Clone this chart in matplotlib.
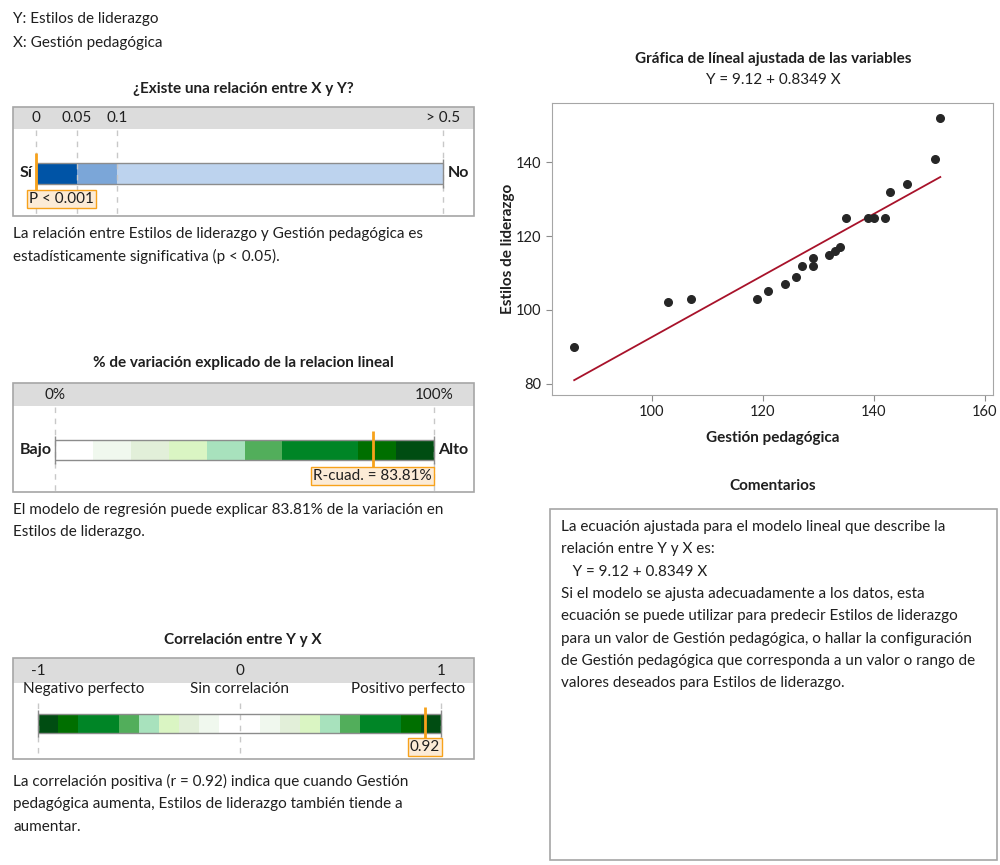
import matplotlib
matplotlib.use("Agg")
import matplotlib.pyplot as plt
from matplotlib.patches import Rectangle

plt.rcParams['font.family'] = ['Lato', 'DejaVu Sans']

# datos de la regresion
gestion = [86, 103, 107, 119, 121, 124, 126, 127, 129, 129, 132, 133, 134,
           135, 139, 140, 142, 143, 146, 151, 152]
estilos = [90, 102, 103, 103, 105, 107, 109, 112, 114, 112, 115, 116, 117,
           125, 125, 125, 125, 132, 134, 141, 152]
b0, b1 = 9.12, 0.8349
p_value = 0.001
r_sq = 83.81
r_corr = 0.92

# escalas de los indicadores
p_breaks = [0, 0.05, 0.1, 0.5]
p_colors = ['#0054A6', '#7BA6D8', '#BDD3EE']
p_ticks = [0, 0.05, 0.1, 0.5]
p_ticklabels = ['0', '0.05', '0.1', '> 0.5']

rsq_breaks = [0, 10, 20, 30, 40, 50, 60, 70, 80, 90, 100]
greens = ['#FFFFFF', '#F0F8EE', '#E2EFD9', '#DAF5C3', '#A8E2BD',
          '#52AE5B', '#008526', '#008526', '#006F00', '#004D12']
rsq_ticks = [0, 100]
rsq_ticklabels = ['0%', '100%']

corr_breaks = [-1, -0.9, -0.8, -0.7, -0.6, -0.5, -0.4, -0.3, -0.2, -0.1, 0,
               0.1, 0.2, 0.3, 0.4, 0.5, 0.6, 0.7, 0.8, 0.9, 1]
corr_colors = greens[::-1] + greens
corr_ticks = [-1, 0, 1]
corr_ticklabels = ['-1', '0', '1']
corr_desc = ['Negativo perfecto', 'Sin correlación', 'Positivo perfecto']

W, H = 1000, 865
TXT = '#1F1F1F'
EDGE = '#A6A6A6'
ORANGE = '#F7A21B'
FS = 11

fig = plt.figure(figsize=(W / 100, H / 100), dpi=100)
bg = fig.add_axes([0, 0, 1, 1])
bg.set_xlim(0, W)
bg.set_ylim(H, 0)
bg.axis('off')


def txt(x, y, s, size=FS, weight='normal', ha='left', **kw):
    bg.text(x, y, s, fontsize=size, fontweight=weight, ha=ha, va='center',
            color=TXT, **kw)


def panel(top, head_bot, bottom):
    bg.add_patch(Rectangle((13, top), 461, head_bot - top, facecolor='#DCDCDC',
                           edgecolor='none'))
    bg.add_patch(Rectangle((13, top), 461, bottom - top, facecolor='none',
                           edgecolor=EDGE, lw=1.2))


def gauge_ax(top, bottom, v0, v1, px0, px1):
    ax = fig.add_axes([13 / W, 1 - bottom / H, 461 / W, (bottom - top) / H])
    s = (px1 - px0) / (v1 - v0)
    ax.set_xlim(v0 - (px0 - 13) / s, v1 + (474 - px1) / s)
    ax.set_ylim(bottom, top)
    ax.axis('off')
    ax.patch.set_alpha(0)
    return ax


def draw_bar(ax, breaks, colors, y0, y1):
    lefts = breaks[:-1]
    widths = [b - a for a, b in zip(breaks[:-1], breaks[1:])]
    ax.barh((y0 + y1) / 2, widths, left=lefts, height=y1 - y0, color=colors,
            edgecolor='none')
    ax.hlines([y0, y1], breaks[0], breaks[-1], color='#8C8C8C', lw=1)
    ax.vlines([breaks[0], breaks[-1]], y0 - 4, y1 + 4, color='#8C8C8C', lw=1)


def marker(ax, v, y0, y1, label, xlab, ylab, ha='center'):
    ax.vlines(v, y0, y1, color=ORANGE, lw=2)
    ax.text(xlab, ylab, label, ha=ha, va='center', fontsize=FS, color=TXT,
            bbox=dict(boxstyle='square,pad=0.12', facecolor='#FCEBD6',
                      edgecolor=ORANGE, lw=1))


# encabezado
txt(13, 19, 'Y: Estilos de liderazgo')
txt(13, 43, 'X: Gestión pedagógica')

# panel 1: valor p
txt(243, 89, '¿Existe una relación entre X y Y?', weight='bold', ha='center')
panel(107, 129, 216)
ax1 = gauge_ax(107, 216, 0, 0.5, 36, 443)
ax1.vlines(p_ticks, 130, 215, color='#C8C8C8', lw=1, linestyles=(0, (4, 4)))
for v, lab in zip(p_ticks, p_ticklabels):
    ax1.text(v, 118, lab, ha='center', va='center', fontsize=FS, color=TXT)
draw_bar(ax1, p_breaks, p_colors, 163, 184)
marker(ax1, p_value * 0.3, 153, 190, 'P < 0.001', -0.0085, 199, ha='left')
txt(33, 173, 'Sí', weight='bold', size=11.5, ha='right')
txt(448, 173, 'No', weight='bold', size=11.5)
txt(13, 234, 'La relación entre Estilos de liderazgo y Gestión pedagógica es')
txt(13, 256, 'estadísticamente significativa (p < 0.05).')

# panel 2: R cuadrado
txt(243, 363, '% de variación explicado de la relacion lineal', weight='bold',
    ha='center')
panel(383, 406, 492)
ax2 = gauge_ax(383, 492, 0, 100, 55, 434)
ax2.vlines(rsq_ticks, 407, 491, color='#C8C8C8', lw=1, linestyles=(0, (4, 4)))
for v, lab in zip(rsq_ticks, rsq_ticklabels):
    ax2.text(v, 395, lab, ha='center', va='center', fontsize=FS, color=TXT)
draw_bar(ax2, rsq_breaks, greens, 440, 460)
marker(ax2, r_sq, 431, 467, 'R-cuad. = 83.81%', 99.4, 476, ha='right')
txt(52, 450, 'Bajo', weight='bold', size=11.5, ha='right')
txt(438, 450, 'Alto', weight='bold', size=11.5)
txt(13, 510, 'El modelo de regresión puede explicar 83.81% de la variación en')
txt(13, 532, 'Estilos de liderazgo.')

# panel 3: correlacion
txt(243, 640, 'Correlación entre Y y X', weight='bold', ha='center')
panel(658, 683, 759)
ax3 = gauge_ax(658, 759, -1, 1, 38, 441)
ax3.vlines(corr_ticks, 703, 758, color='#C8C8C8', lw=1, linestyles=(0, (4, 4)))
for v, lab in zip(corr_ticks, corr_ticklabels):
    ax3.text(v, 671, lab, ha='center', va='center', fontsize=FS, color=TXT)
txt(23, 689, corr_desc[0])
txt(239, 689, corr_desc[1], ha='center')
txt(465, 689, corr_desc[2], ha='right')
draw_bar(ax3, corr_breaks, corr_colors, 714, 733)
marker(ax3, r_corr, 707, 739, '0.92', r_corr, 747, ha='center')
txt(13, 781, 'La correlación positiva (r = 0.92) indica que cuando Gestión')
txt(13, 804, 'pedagógica aumenta, Estilos de liderazgo también tiende a')
txt(13, 827, 'aumentar.')

# grafica de linea ajustada
txt(773, 59, 'Gráfica de líneal ajustada de las variables', weight='bold',
    ha='center')
txt(773, 80, 'Y = 9.12 + 0.8349 X', ha='center')
ax = fig.add_axes([552 / W, 1 - 395 / H, 441 / W, 292 / H])
ax.scatter(gestion, estilos, s=30, color='#262626', zorder=3)
xfit = [min(gestion), max(gestion)]
ax.plot(xfit, [b0 + b1 * v for v in xfit], color='#A8122A', lw=1.3)
ax.set_xlim(82, 161.5)
ax.set_ylim(76.9, 156.1)
ax.set_xticks([100, 120, 140, 160])
ax.set_yticks([80, 100, 120, 140])
ax.tick_params(labelsize=10.5, colors='#8C8C8C', labelcolor=TXT, length=4)
for sp in ax.spines.values():
    sp.set_color(EDGE)
ax.set_xlabel('Gestión pedagógica', fontsize=11, fontweight='bold', color=TXT,
              labelpad=8)
ax.set_ylabel('Estilos de liderazgo', fontsize=11, fontweight='bold', color=TXT,
              labelpad=1)

# comentarios
txt(773, 486, 'Comentarios', weight='bold', ha='center')
bg.add_patch(Rectangle((550, 509), 447, 351, facecolor='none', edgecolor=EDGE,
                       lw=1.2))
coment = ['La ecuación ajustada para el modelo lineal que describe la',
          'relación entre Y y X es:',
          '   Y = 9.12 + 0.8349 X',
          'Si el modelo se ajusta adecuadamente a los datos, esta',
          'ecuación se puede utilizar para predecir Estilos de liderazgo',
          'para un valor de Gestión pedagógica, o hallar la configuración',
          'de Gestión pedagógica que corresponda a un valor o rango de',
          'valores deseados para Estilos de liderazgo.']
for i, line in enumerate(coment):
    txt(561, 527 + 22.3 * i, line)

fig.savefig('out.png', dpi=100, facecolor='white')
